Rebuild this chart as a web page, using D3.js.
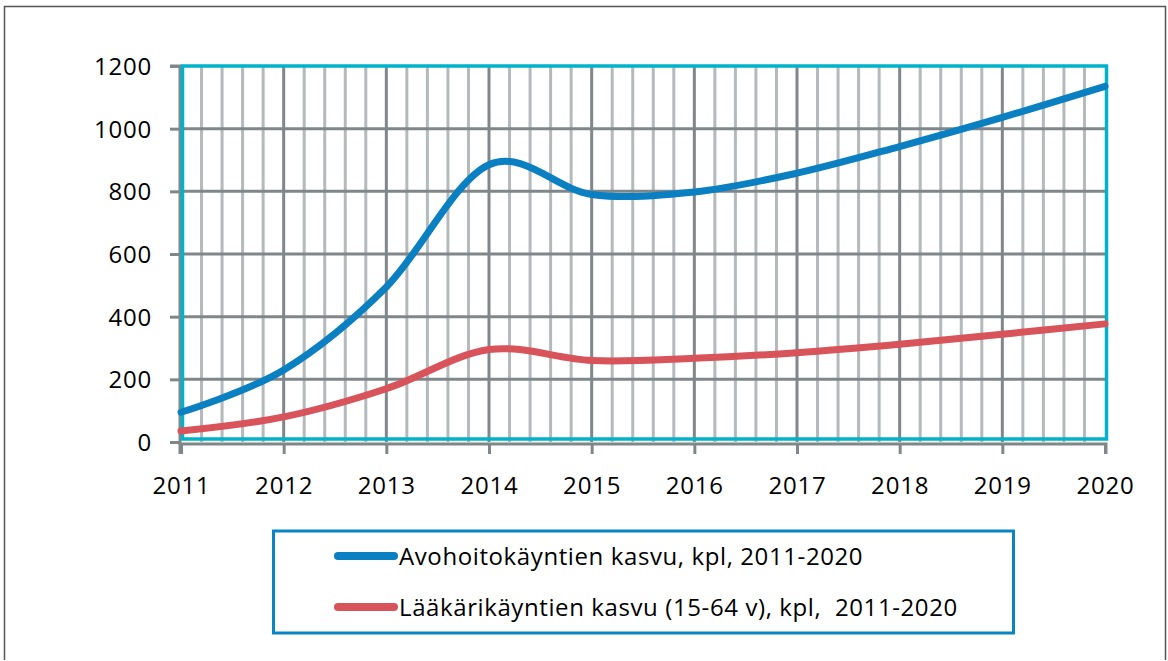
<!DOCTYPE html>
<html>
<head>
<meta charset="utf-8">
<script src="https://cdn.jsdelivr.net/npm/d3@7"></script>
<style>
  html, body { margin: 0; padding: 0; background: #fff; }
  svg { display: block; font-family: "Open Sans", sans-serif; }
</style>
</head>
<body>
<svg id="chart" width="1168" height="661"></svg>
<script>
// Years on the x axis
const years = [2011, 2012, 2013, 2014, 2015, 2016, 2017, 2018, 2019, 2020];
// Growth in outpatient visits (count)
const avohoito = [95, 230, 495, 885, 790, 798, 858, 943, 1036, 1135];
// Growth in physician visits, ages 15-64 (count)
const laakari = [35, 80, 170, 295, 260, 267, 285, 312, 344, 377];
// Y tick labels
const yTicks = [0, 200, 400, 600, 800, 1000, 1200];
// Legend labels
const seriesNames = [
  "Avohoitokäyntien kasvu, kpl, 2011-2020",
  "Lääkärikäyntien kasvu (15-64 v), kpl,  2011-2020"
];
const seriesColors = ["#0a7fc1", "#d9535a"];
const fontFamily = "'Open Sans', sans-serif";

const svg = d3.select("#chart");

// Outer frame
svg.append("path")
  .attr("d", "M4.5,660 L4.5,6.5 L1165.5,6.5 L1165.5,660")
  .attr("fill", "none").attr("stroke", "#555").attr("stroke-width", 1.5);

const plotL = 181, plotR = 1105, plotT = 66, plotB = 442;
const x = d3.scaleLinear().domain([2011, 2020]).range([plotL, plotR]);
const y = d3.scaleLinear().domain([0, 1200]).range([plotB, plotT]);

const g = svg.append("g");

// Minor vertical gridlines (fifths of a year)
const minor = [];
for (let i = 0; i <= 45; i++) if (i % 5 !== 0) minor.push(2011 + i / 5);
g.selectAll(".minor").data(minor).join("line")
  .attr("x1", d => x(d)).attr("x2", d => x(d))
  .attr("y1", plotT).attr("y2", plotB)
  .attr("stroke", "#b4b9bb").attr("stroke-width", 3);

// Major vertical gridlines
g.selectAll(".vmajor").data(years.slice(1, -1)).join("line")
  .attr("x1", d => x(d)).attr("x2", d => x(d))
  .attr("y1", plotT).attr("y2", plotB)
  .attr("stroke", "#80878a").attr("stroke-width", 3);

// Horizontal gridlines
g.selectAll(".hgrid").data(yTicks.slice(1, -1)).join("line")
  .attr("x1", plotL).attr("x2", plotR)
  .attr("y1", d => y(d)).attr("y2", d => y(d))
  .attr("stroke", "#80878a").attr("stroke-width", 3);

// Axes (grey)
const yAxis = d3.axisLeft(y).tickValues(yTicks).tickSize(10).tickPadding(18).tickFormat(d3.format("d"));
const yg = svg.append("g").attr("transform", `translate(${plotL - 1},0)`).call(yAxis);
const xAxis = d3.axisBottom(x).tickValues(years).tickSize(10).tickPadding(24).tickFormat(d3.format("d"));
const xg = svg.append("g").attr("transform", `translate(0,${plotB + 2})`).call(xAxis);
[yg, xg].forEach(a => {
  a.select(".domain").attr("stroke", "#80878a").attr("stroke-width", 3);
  a.selectAll(".tick line").attr("stroke", "#80878a").attr("stroke-width", 3);
  a.selectAll("text").attr("fill", "#000").attr("font-size", 24)
    .attr("letter-spacing", 0.8)
    .attr("font-family", fontFamily);
});
yg.selectAll("text").attr("dy", "0.36em");
xg.selectAll("text").attr("dy", "0.68em");
yg.select(".domain").attr("d", `M-10,${plotT}H0V${plotB + 3}`);
xg.select(".domain").attr("d", `M${plotL - 1},10V0H${plotR + 1}V10`);

// Plot area border (cyan)
svg.append("rect")
  .attr("x", plotL + 1.5).attr("y", plotT)
  .attr("width", plotR - plotL).attr("height", plotB - plotT - 3)
  .attr("fill", "none").attr("stroke", "#00b2cb").attr("stroke-width", 3.5);

// Smoothed series lines
const line = d3.line()
  .x((d, i) => x(years[i]))
  .y(d => y(d))
  .curve(d3.curveCardinal.tension(0));

[avohoito, laakari].forEach((s, k) => {
  svg.append("path").datum(s)
    .attr("d", line)
    .attr("fill", "none")
    .attr("stroke", seriesColors[k])
    .attr("stroke-width", 7)
    .attr("stroke-linecap", "round")
    .attr("stroke-linejoin", "round");
});

// Legend
const lg = svg.append("g");
lg.append("rect")
  .attr("x", 273.5).attr("y", 531).attr("width", 740).attr("height", 102)
  .attr("fill", "#fff").attr("stroke", "#0a85c4").attr("stroke-width", 3);
seriesNames.forEach((name, k) => {
  const cy = 556 + k * 51;
  lg.append("line")
    .attr("x1", 338).attr("x2", 394).attr("y1", cy).attr("y2", cy)
    .attr("stroke", seriesColors[k]).attr("stroke-width", 8)
    .attr("stroke-linecap", "round");
  lg.append("text")
    .attr("x", 399).attr("y", cy).attr("dy", "0.36em")
    .attr("font-size", 24).attr("fill", "#000")
    .attr("letter-spacing", 0.6)
    .attr("font-family", fontFamily)
    .style("white-space", "pre")
    .text(name);
});
</script>
</body>
</html>
